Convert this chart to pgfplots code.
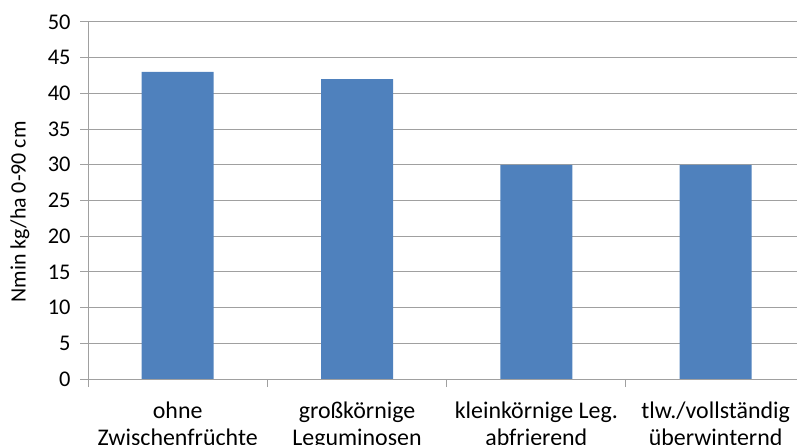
\documentclass[border=0pt]{standalone}
\usepackage{fontspec}
\setmainfont{Carlito}
\usepackage{pgfplots}
\pgfplotsset{compat=1.18}
\definecolor{barblue}{HTML}{4F81BD}
\definecolor{gridgray}{HTML}{A0A0A0}

\begin{document}
\begin{tikzpicture}
\begin{scope}
\clip (0bp,0bp) rectangle (797bp,445bp);
\begin{axis}[
    at={(177.7bp,66bp)}, anchor=origin,
    scale only axis,
    width=709bp, height=357bp,
    xmin=-0.5, xmax=3.454,
    ymin=0, ymax=50,
    ytick={0,5,...,50},
    xtick={0,1,2,3},
    xticklabels={{ohne\\Zwischenfrüchte},{großkörnige\\Leguminosen},{kleinkörnige Leg.\\abfrierend},{tlw./vollständig\\überwinternd}},
    minor xtick={-0.5,0.5,1.5,2.5,3.5},
    axis lines*=left,
    axis line style={gridgray, line width=1bp},
    ymajorgrids,
    grid style={gridgray, line width=1bp},
    tick align=outside,
    major tick length=8bp,
    minor tick length=8bp,
    tick style={gridgray, line width=1bp},
    xtick style={draw=none},
    minor x tick style={draw=gridgray},
    /pgf/number format/assume math mode=true,
    yticklabel style={font=\fontsize{22.5}{26}\selectfont, xshift=-6bp},
    xticklabel style={align=center, font=\fontsize{24}{27}\selectfont, yshift=-11bp},
    ylabel={Nmin kg/ha 0-90 cm},
    ylabel style={font=\fontsize{22}{26}\selectfont, at={(axis description cs:-0.096,0.468)}, anchor=center},
    ybar, bar width=72bp,
]
\addplot[fill=barblue, draw=none] coordinates {(0,43) (1,42) (2,30) (3,30)};
\end{axis}
\end{scope}
\pgfresetboundingbox
\path[use as bounding box] (0bp,0bp) rectangle (797bp,445bp);
\end{tikzpicture}
\end{document}
